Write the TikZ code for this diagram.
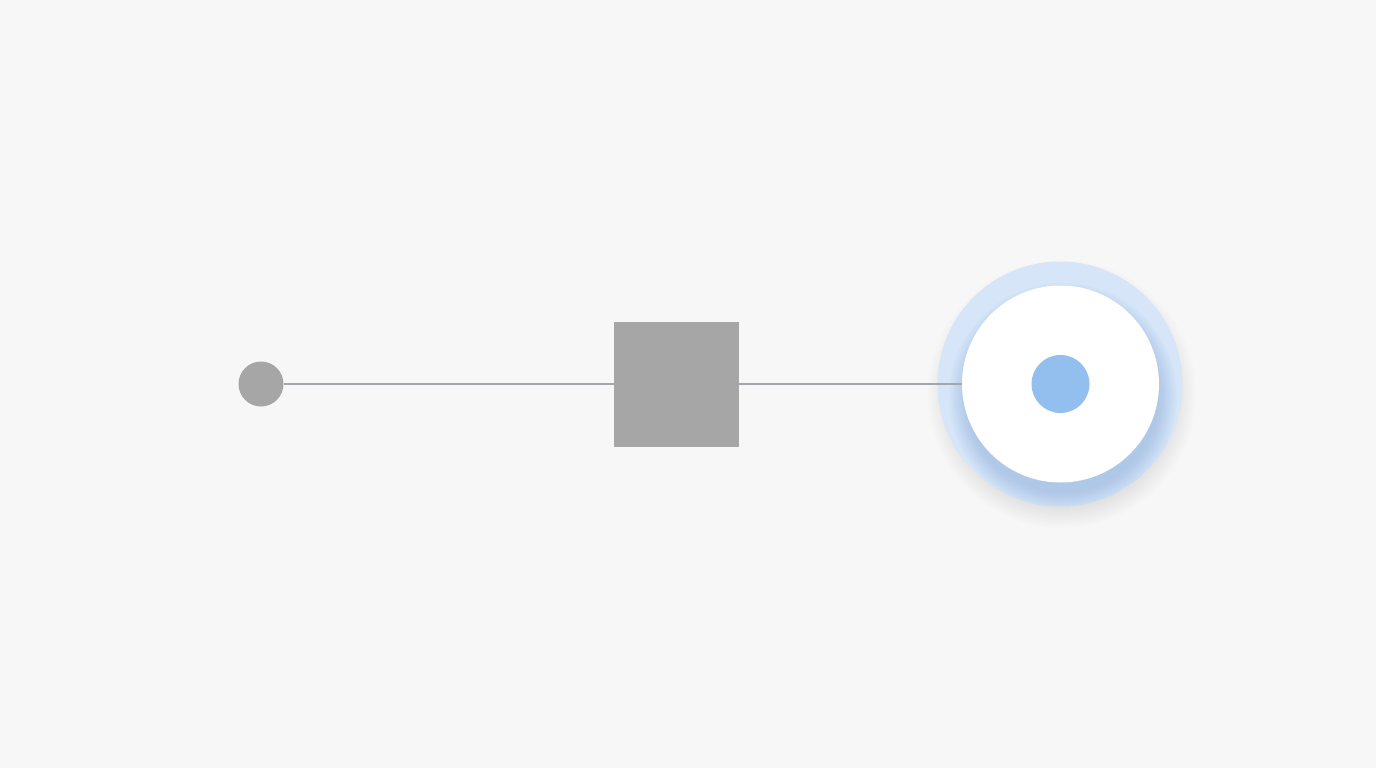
\documentclass[tikz,border=0pt]{standalone}
\begin{document}
\begin{tikzpicture}[x=1pt,y=-1pt,
  graydot/.style={circle,fill=dotgray,draw=none,minimum size=45pt,inner sep=0pt},
  graybox/.style={rectangle,fill=dotgray,draw=none,minimum size=125pt,inner sep=0pt},
  link/.style={draw=linegray,line width=2pt},
  halo/.style={circle,fill=haloblue,draw=none,minimum size=245pt,inner sep=0pt},
]
\definecolor{bg}{HTML}{F7F7F7}
\definecolor{dotgray}{HTML}{A6A6A6}
\definecolor{linegray}{HTML}{A3A6AA}
\definecolor{haloblue}{HTML}{D6E5F7}
\definecolor{shadeblue}{HTML}{8DB0DE}
\definecolor{coreblue}{HTML}{93BFEF}
\fill[bg] (0,0) rectangle (1376,768);
\useasboundingbox (0,0) rectangle (1376,768);
% drop shadow of halo
\foreach \k in {1,...,12}{
  \fill[black,opacity=0.006] (1062,394) circle ({110+2*\k});
}
\node[halo] (halo) at (1060,384) {};
% inner shadow on halo
\begin{scope}
  \clip (1060,384) circle (122.5);
  \foreach \k in {0,...,15}{
    \fill[shadeblue,opacity=0.035] (1063,397) circle ({96+1.2*\k});
  }
\end{scope}
\node[circle,fill=white,draw=none,minimum size=197pt,inner sep=0pt] (ring) at (1060.5,384) {};
\node[circle,fill=coreblue,draw=none,minimum size=58pt,inner sep=0pt] (core) at (1060.5,384) {};
\node[graydot] (start) at (261,384) {};
\node[graybox] (box) at (676.5,384) {};
\draw[link] (start.east) -- (box.west);
\draw[link] (box.east) -- (ring.west);
\end{tikzpicture}
\end{document}
